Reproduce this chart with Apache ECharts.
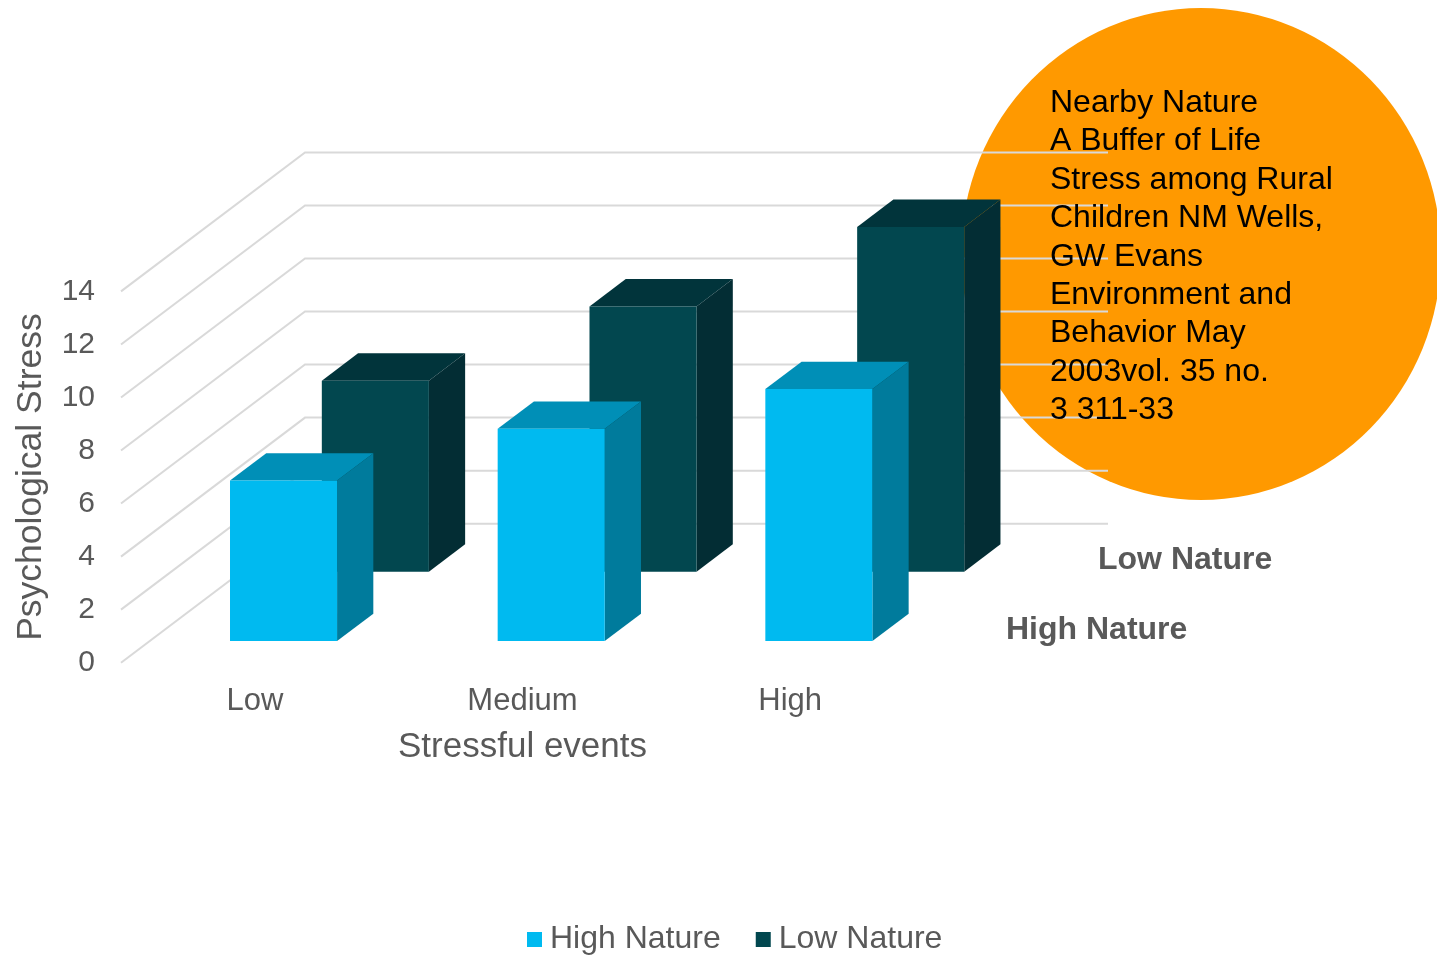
<!DOCTYPE html>
<html>
<head>
<meta charset="utf-8">
<title>Psychological Stress by Stressful events</title>
<script src="https://cdn.jsdelivr.net/npm/echarts@6/dist/echarts.min.js"></script>
<style>
  html, body { margin: 0; padding: 0; background: #ffffff; }
  #chart { width: 1437px; height: 955px; }
</style>
</head>
<body>
<div id="chart"></div>
<script>
// ---- data ----
const categories = ['Low', 'Medium', 'High'];
const highNature = [6.05, 8.0, 9.5];
const lowNature = [7.2, 10.0, 13.0];
const stressTicks = [0, 2, 4, 6, 8, 10, 12, 14];
const seriesNames = ['High Nature', 'Low Nature'];
const citationLines = [
  'Nearby Nature',
  'A Buffer of Life',
  'Stress among Rural',
  'Children NM Wells,',
  'GW Evans',
  'Environment and',
  'Behavior May',
  '2003vol. 35 no.',
  '3 311-33'
];

// ---- oblique 3D projection ----
const FONT = '"Liberation Sans", Arial, Helvetica, sans-serif';
const DEPTH = [184, -139];          // screen offset from front floor edge to back wall
const BAR_DEPTH = 0.197;            // bar thickness as a share of full depth
const ROW_FRONT = [0.156, 0.655];   // front face depth of each series row
const ROW_CENTER = [0.25, 0.75];    // depth of each row's label

const palettes = [
  { front: '#00BAF0', top: '#008FB7', side: '#007B9C' },
  { front: '#02474F', top: '#01343B', side: '#032D34' }
];

function offset(d) { return [DEPTH[0] * d, DEPTH[1] * d]; }

function barRenderer(row) {
  const pal = palettes[row];
  const d0 = ROW_FRONT[row];
  const d1 = d0 + BAR_DEPTH;
  return function (params, api) {
    const idx = api.value(0);
    const val = api.value(1);
    const top = api.coord([idx, val]);
    const base = api.coord([idx, 0]);
    const half = api.size([1, 0])[0] * 0.2;
    const xl = top[0] - half, xr = top[0] + half;
    const yT = top[1], yB = base[1];
    const a = offset(d0), b = offset(d1);
    return {
      type: 'group',
      children: [
        {
          type: 'polygon',
          shape: { points: [[xl + a[0], yT + a[1]], [xr + a[0], yT + a[1]], [xr + b[0], yT + b[1]], [xl + b[0], yT + b[1]]] },
          style: { fill: pal.top }
        },
        {
          type: 'polygon',
          shape: { points: [[xr + a[0], yT + a[1]], [xr + b[0], yT + b[1]], [xr + b[0], yB + b[1]], [xr + a[0], yB + a[1]]] },
          style: { fill: pal.side }
        },
        {
          type: 'rect',
          shape: { x: xl + a[0], y: yT + a[1], width: xr - xl, height: yB - yT },
          style: { fill: pal.front }
        }
      ]
    };
  };
}

function wallRenderer(params, api) {
  const cs = params.coordSys;
  const y = api.coord([0, api.value(1)])[1];
  const x0 = cs.x;
  return {
    type: 'polyline',
    shape: {
      points: [
        [x0, y],
        [x0 + DEPTH[0], y + DEPTH[1]],
        [x0 + cs.width + DEPTH[0], y + DEPTH[1]]
      ]
    },
    style: { stroke: '#D9D9D9', lineWidth: 2, fill: null }
  };
}

function depthLabelRenderer(params, api) {
  const cs = params.coordSys;
  const row = api.value(2);
  const o = offset(ROW_CENTER[row]);
  return {
    type: 'text',
    style: {
      x: cs.x + cs.width + o[0] + 36,
      y: cs.y + cs.height + o[1] + 2,
      text: seriesNames[row],
      font: 'bold 32px ' + FONT,
      fill: '#595959',
      align: 'left',
      verticalAlign: 'middle'
    }
  };
}

const chart = echarts.init(document.getElementById('chart'), null, { renderer: 'canvas' });

chart.setOption({
  animation: false,
  backgroundColor: '#ffffff',
  textStyle: { fontFamily: FONT },
  grid: { left: 121, top: 291.4, width: 803, height: 371.3 },
  xAxis: {
    type: 'category',
    data: categories,
    axisLine: { show: false },
    axisTick: { show: false },
    axisLabel: { color: '#595959', fontSize: 31, margin: 23, fontFamily: FONT },
    name: 'Stressful events',
    nameLocation: 'middle',
    nameGap: 67,
    nameTextStyle: { color: '#595959', fontSize: 35, fontFamily: FONT }
  },
  yAxis: {
    type: 'value',
    min: 0,
    max: 14,
    interval: 2,
    axisLine: { show: false },
    axisTick: { show: false },
    splitLine: { show: false },
    axisLabel: { color: '#595959', fontSize: 30, margin: 26, fontFamily: FONT, padding: [3, 0, 0, 0] },
    name: 'Psychological Stress',
    nameLocation: 'middle',
    nameRotate: 90,
    nameGap: 72,
    nameTextStyle: { color: '#595959', fontSize: 35.5, fontFamily: FONT }
  },
  legend: {
    data: seriesNames,
    left: 527,
    top: 923.5,
    padding: 0,
    icon: 'rect',
    itemWidth: 15,
    itemHeight: 15,
    itemGap: 35,
    textStyle: { color: '#595959', fontSize: 32, fontFamily: FONT, padding: [0, 0, 0, 3] }
  },
  graphic: [
    {
      type: 'group',
      x: 1201,
      y: 254,
      scaleX: 240 / 246,
      z: 0,
      children: [
        { type: 'circle', shape: { cx: 0, cy: 0, r: 246 }, style: { fill: '#FF9900' } }
      ]
    },
    {
      type: 'text',
      x: 1050,
      y: 84,
      z: 10,
      style: {
        text: citationLines.join('\n'),
        font: '32px ' + FONT,
        fill: '#000000',
        lineHeight: 38.4
      }
    }
  ],
  series: [
    {
      name: 'walls',
      type: 'custom',
      z: 2,
      silent: true,
      renderItem: wallRenderer,
      data: stressTicks.map(v => [0, v])
    },
    {
      name: 'Low Nature',
      type: 'custom',
      z: 3,
      itemStyle: { color: palettes[1].front },
      renderItem: barRenderer(1),
      encode: { x: 0, y: 1 },
      data: lowNature.map((v, i) => [i, v])
    },
    {
      name: 'High Nature',
      type: 'custom',
      z: 4,
      itemStyle: { color: palettes[0].front },
      renderItem: barRenderer(0),
      encode: { x: 0, y: 1 },
      data: highNature.map((v, i) => [i, v])
    },
    {
      name: 'series axis',
      type: 'custom',
      z: 5,
      silent: true,
      renderItem: depthLabelRenderer,
      data: seriesNames.map((n, i) => [0, 0, i])
    }
  ]
});
</script>
</body>
</html>
